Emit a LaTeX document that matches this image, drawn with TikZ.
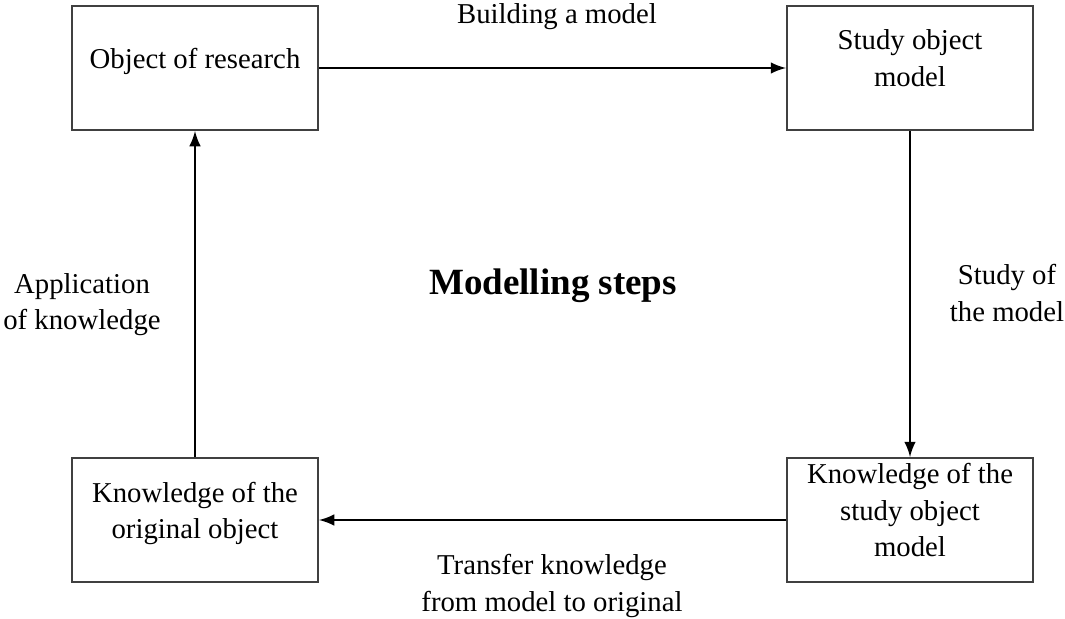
\documentclass[tikz,border=0pt]{standalone}
\usepackage{fontspec}
\setmainfont{Liberation Serif}
\usepackage{tikz}
\usetikzlibrary{arrows}
\tikzset{stepbox/.style={draw=black!75,line width=.8pt,minimum width=98.4pt,minimum height=49.6pt,
  align=center,inner sep=2pt,text depth=8pt,font=\fontsize{11.5}{14.5}\selectfont}}
\tikzset{steplabel/.style={align=center,inner sep=1pt,font=\fontsize{11.5}{14.5}\selectfont}}

\begin{document}
\begin{tikzpicture}[x=.4pt,y=-.4pt]
\useasboundingbox (0,0) rectangle (1065,619);
\node[stepbox] (object) at (195,68) {Object of research};
\node[stepbox] (model) at (910,68) {Study object\\model};
\node[stepbox] (modelknow) at (910,520) {Knowledge of the\\study object\\model};
\node[stepbox] (origknow) at (195,520) {Knowledge of the\\original object};
\draw[black,line width=1.1pt,->,>=latex] (object) -- (model);
\draw[black,line width=1.1pt,->,>=latex] (model) -- (modelknow);
\draw[black,line width=1.1pt,->,>=latex] (modelknow) -- (origknow);
\draw[black,line width=1.1pt,->,>=latex] (origknow) -- (object);
\node[steplabel] (build) at (557,17) {Building a model};
\node[steplabel] (study) at (1007,293) {Study of\\the model};
\node[steplabel] (transfer) at (552,586) {Transfer knowledge\\from model to original};
\node[steplabel] (apply) at (82,305) {Application\\of knowledge};
\node[font=\fontsize{14.8}{17}\selectfont\bfseries] (title) at (553,286) {Modelling steps};
\end{tikzpicture}
\end{document}
